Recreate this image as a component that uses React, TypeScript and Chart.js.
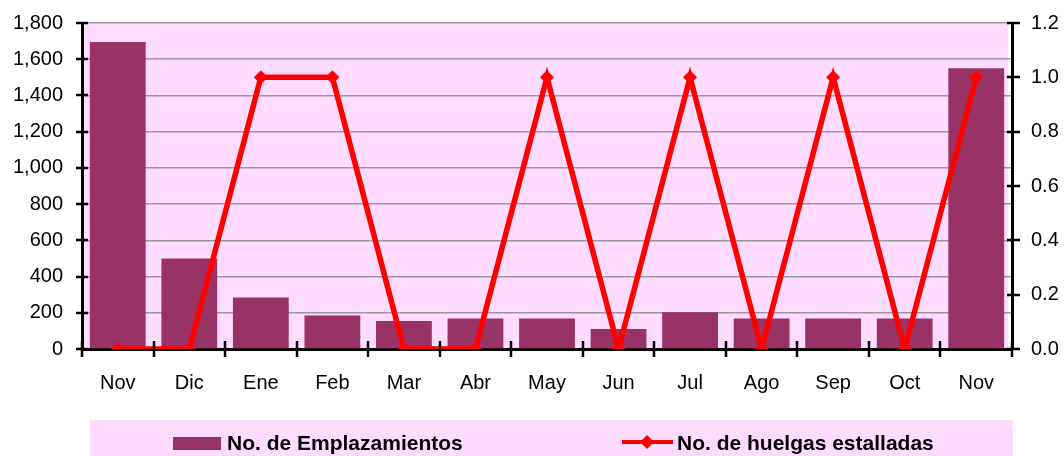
import React, { useEffect, useRef } from "react";
import { Chart, registerables } from "chart.js";

Chart.register(...registerables);

const categories = ["Nov", "Dic", "Ene", "Feb", "Mar", "Abr", "May", "Jun", "Jul", "Ago", "Sep", "Oct", "Nov"];
const emplazamientos = [1695, 500, 285, 185, 155, 168, 168, 110, 203, 168, 168, 168, 1550];
const huelgas = [0, 0, 1, 1, 0, 0, 1, 0, 1, 0, 1, 0, 1];
const leftTicks = [0, 200, 400, 600, 800, 1000, 1200, 1400, 1600, 1800];
const rightTicks = [0, 0.2, 0.4, 0.6, 0.8, 1.0, 1.2];

const BAR_COLOR = "#993366";
const LINE_COLOR = "#FF0000";
const PINK = "#FFDBFF";
const FONT = "'Liberation Sans', Arial, sans-serif";

const bgPlugin = {
  id: "plotBg",
  beforeDraw(chart: any) {
    const { ctx, chartArea } = chart;
    ctx.save();
    ctx.fillStyle = PINK;
    ctx.fillRect(chartArea.left, chartArea.top, chartArea.right - chartArea.left - 4, chartArea.bottom - chartArea.top);
    ctx.restore();
  },
};

const ticksPlugin = {
  id: "crossTicks",
  afterDraw(chart: any) {
    const { ctx, chartArea, scales } = chart;
    ctx.save();
    ctx.strokeStyle = "#000";
    ctx.lineWidth = 2.5;
    scales.y.ticks.forEach((t: any) => {
      const y = Math.round(scales.y.getPixelForValue(t.value));
      ctx.beginPath();
      ctx.moveTo(chartArea.left - 6, y);
      ctx.lineTo(chartArea.left + 6, y);
      ctx.stroke();
    });
    scales.y1.ticks.forEach((t: any) => {
      const y = Math.round(scales.y1.getPixelForValue(t.value));
      ctx.beginPath();
      ctx.moveTo(chartArea.right - 5, y);
      ctx.lineTo(chartArea.right + 8, y);
      ctx.stroke();
    });
    const n = chart.data.labels.length;
    const w = (chartArea.right - chartArea.left) / n;
    for (let i = 0; i <= n; i++) {
      const x = Math.round(chartArea.left + i * w);
      ctx.beginPath();
      ctx.moveTo(x, chartArea.bottom - 8);
      ctx.lineTo(x, chartArea.bottom + 8);
      ctx.stroke();
    }
    ctx.restore();
  },
};

const legendPlugin = {
  id: "customLegend",
  afterDraw(chart: any) {
    const { ctx } = chart;
    const ds = chart.data.datasets;
    ctx.save();
    ctx.fillStyle = PINK;
    ctx.fillRect(90, 420, 923, 40);
    ctx.font = `bold 21px ${FONT}`;
    ctx.textBaseline = "middle";
    ctx.fillStyle = ds[0].backgroundColor;
    ctx.fillRect(173, 437, 48, 13);
    ctx.fillStyle = "#000";
    ctx.fillText(ds[0].label, 227, 444);
    ctx.strokeStyle = ds[1].borderColor;
    ctx.lineWidth = 4;
    ctx.beginPath();
    ctx.moveTo(622, 442);
    ctx.lineTo(673, 442);
    ctx.stroke();
    ctx.fillStyle = ds[1].borderColor;
    ctx.beginPath();
    ctx.moveTo(647, 435);
    ctx.lineTo(654, 442);
    ctx.lineTo(647, 449);
    ctx.lineTo(640, 442);
    ctx.closePath();
    ctx.fill();
    ctx.fillStyle = "#000";
    ctx.fillText(ds[1].label, 677, 444);
    ctx.restore();
  },
};

export default function App() {
  const ref = useRef<HTMLCanvasElement | null>(null);

  useEffect(() => {
    document.body.style.margin = "0";
    if (!ref.current) return;
    const chart = new Chart(ref.current, {
      type: "bar",
      data: {
        labels: categories,
        datasets: [
          {
            type: "bar",
            label: "No. de Emplazamientos",
            data: emplazamientos,
            backgroundColor: BAR_COLOR,
            borderWidth: 0,
            barPercentage: 0.78,
            categoryPercentage: 1,
            yAxisID: "y",
            order: 2,
          },
          {
            type: "line",
            label: "No. de huelgas estalladas",
            data: huelgas,
            borderColor: LINE_COLOR,
            backgroundColor: LINE_COLOR,
            borderWidth: 5.5,
            pointStyle: "rectRot",
            pointRadius: 7,
            pointBorderWidth: 0,
            tension: 0,
            yAxisID: "y1",
            order: 1,
          } as any,
        ],
      },
      options: {
        responsive: false,
        animation: false,
        layout: { padding: { top: 22, left: 0, right: 0, bottom: 0 } },
        plugins: {
          legend: { display: false },
          tooltip: { enabled: false },
        },
        scales: {
          x: {
            offset: true,
            grid: { display: true, drawOnChartArea: false, tickLength: 8, color: "transparent", offset: true },
            border: { display: true, color: "#000", width: 3 },
            ticks: { color: "#000", font: { family: FONT, size: 20 }, padding: 14, maxRotation: 0 },
            afterFit(scale: any) {
              scale.height = 456 - 349;
            },
          },
          y: {
            position: "left",
            min: 0,
            max: 1800,
            afterBuildTicks(scale: any) {
              scale.ticks = leftTicks.map((v) => ({ value: v }));
            },
            grid: { color: "#999999", lineWidth: 1.5, tickLength: 8, tickColor: "transparent" },
            border: { display: true, color: "#000", width: 3 },
            ticks: {
              color: "#000",
              font: { family: FONT, size: 20 },
              padding: 11,
              callback: (v: any) => Number(v).toLocaleString("en-US"),
            },
            afterFit(scale: any) {
              scale.width = 82;
            },
          },
          y1: {
            position: "right",
            min: 0,
            max: 1.2,
            afterBuildTicks(scale: any) {
              scale.ticks = rightTicks.map((v) => ({ value: v }));
            },
            grid: { drawOnChartArea: false, tickLength: 8, tickColor: "transparent" },
            border: { display: true, color: "#000", width: 3 },
            ticks: {
              color: "#000",
              font: { family: FONT, size: 20 },
              padding: 11,
              callback: (v: any) => Number(v).toFixed(1),
            },
            afterFit(scale: any) {
              scale.width = 1064 - 1012;
            },
          },
        },
      },
      plugins: [bgPlugin, ticksPlugin, legendPlugin],
    });
    return () => chart.destroy();
  }, []);

  return (
    <div style={{ width: 1064, height: 456 }}>
      <canvas ref={ref} width={1064} height={456} style={{ display: "block" }} />
    </div>
  );
}
